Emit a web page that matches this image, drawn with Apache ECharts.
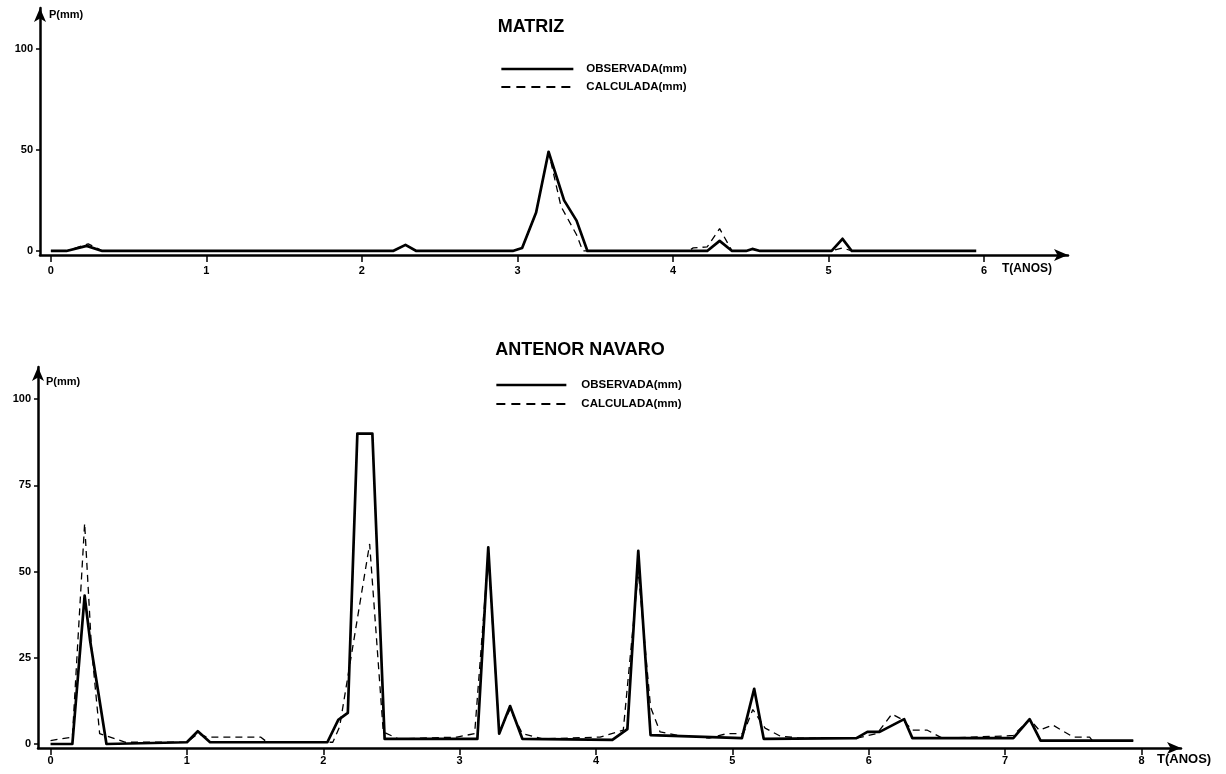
<!DOCTYPE html>
<html><head><meta charset="utf-8">
<script src="https://cdn.jsdelivr.net/npm/echarts@6/dist/echarts.min.js"></script>
<style>html,body{margin:0;padding:0;background:#fff}#c{width:1226px;height:774px}</style>
</head><body><div id="c"></div>
<script>
// ---- MATRIZ (top chart) ----
const matrizObsT = [0, 0.10, 0.23, 0.33, 2.20, 2.28, 2.35, 2.97, 3.03, 3.12, 3.20, 3.30, 3.38, 3.45, 4.22, 4.30, 4.38, 4.47, 4.51, 4.56, 5.02, 5.09, 5.15, 5.95];
const matrizObsP = [0, 0, 2.5, 0, 0, 3, 0, 0, 1.5, 19, 49, 25, 15, 0, 0, 5, 0, 0, 1, 0, 0, 6, 0, 0];
const matrizCalT = [0, 0.10, 0.24, 0.33, 2.20, 2.28, 2.35, 2.97, 3.03, 3.12, 3.20, 3.28, 3.38, 3.42, 4.10, 4.13, 4.22, 4.30, 4.38, 4.47, 4.51, 4.56, 5.02, 5.09, 5.15, 5.95];
const matrizCalP = [0, 0, 3.5, 0, 0, 3, 0, 0, 1.5, 19, 49, 22, 8, 0, 0, 1.5, 2, 11, 0, 0, 1, 0, 0, 1.5, 0, 0];
const matrizXTicks = [0, 1, 2, 3, 4, 5, 6];
const matrizYTicks = [0, 50, 100];

// ---- ANTENOR NAVARO (bottom chart) ----
const navObsT = [0, 0.16, 0.25, 0.29, 0.41, 1.00, 1.08, 1.17, 2.03, 2.11, 2.18, 2.25, 2.36, 2.45, 3.13, 3.21, 3.29, 3.37, 3.46, 4.12, 4.23, 4.31, 4.40, 5.07, 5.16, 5.23, 5.91, 5.99, 6.08, 6.26, 6.32, 7.06, 7.18, 7.26, 7.94];
const navObsP = [0, 0, 43, 30, 0, 0.5, 3.7, 0.5, 0.5, 7, 9, 90, 90, 1.5, 1.5, 57, 3, 11, 1.5, 1.2, 4.3, 56, 2.6, 1.7, 16, 1.5, 1.7, 3.5, 3.5, 7.2, 1.7, 1.7, 7.2, 1, 1];
const navCalT = [0, 0.16, 0.25, 0.30, 0.36, 0.55, 1.00, 1.08, 1.15, 1.54, 1.59, 2.07, 2.12, 2.34, 2.44, 2.55, 2.98, 3.11, 3.21, 3.29, 3.37, 3.46, 3.61, 4.03, 4.20, 4.31, 4.40, 4.47, 4.59, 4.83, 4.96, 5.08, 5.15, 5.24, 5.35, 5.50, 5.91, 6.06, 6.17, 6.25, 6.32, 6.43, 6.54, 6.98, 7.06, 7.18, 7.25, 7.35, 7.50, 7.62, 7.64, 7.94];
const navCalP = [1, 2, 64, 28, 3, 0.5, 0.5, 3, 2, 2, 0.5, 0.5, 5, 58, 3.5, 1.5, 2, 3, 55, 3.5, 10, 3, 1.5, 2, 4, 50, 10.7, 3.5, 2.6, 1.7, 3, 3, 10, 4.6, 2.3, 1.7, 1.7, 3, 8.7, 7, 4, 4, 1.7, 2.3, 2.5, 7.2, 4, 5.5, 2, 2, 1, 1];
const navXTicks = [0, 1, 2, 3, 4, 5, 6, 7, 8];
const navYTicks = [0, 25, 50, 75, 100];

const OBS = 'OBSERVADA(mm)';
const CAL = 'CALCULADA(mm)';
const FONT = '"Liberation Sans", Arial, sans-serif';

function zip(t, p) { return t.map((v, i) => [v, p[i]]); }

const axisLineStyle = { color: '#000', width: 2.5 };
function xAxisCfg(idx, min, max, ticks, margin) {
  return {
    type: 'value', gridIndex: idx, min: min, max: max,
    splitLine: { show: false },
    axisLine: { show: true, onZero: false, lineStyle: axisLineStyle, symbol: ['none', 'arrow'], symbolSize: [9, 14] },
    axisTick: { show: true, inside: false, length: 7, customValues: ticks, lineStyle: { color: '#000', width: 1.5 } },
    axisLabel: { customValues: ticks, margin: margin, color: '#000', fontWeight: 'bold', fontSize: 11, fontFamily: FONT }
  };
}
function yAxisCfg(idx, min, max, ticks) {
  return {
    type: 'value', gridIndex: idx, min: min, max: max,
    splitLine: { show: false },
    axisLine: { show: true, onZero: false, lineStyle: axisLineStyle, symbol: ['none', 'arrow'], symbolSize: [9, 14] },
    axisTick: { show: true, inside: false, length: 4, customValues: ticks, lineStyle: { color: '#000', width: 1.5 } },
    axisLabel: { customValues: ticks, margin: 7, color: '#000', fontWeight: 'bold', fontSize: 11, fontFamily: FONT }
  };
}

const obsLine = { color: '#000', width: 2.7, join: 'round' };
const calLine = { color: '#000', width: 1.3, type: [7, 5] };
const blackItem = { color: '#000' };

const legendText = (pad) => ({ color: '#000', fontWeight: 'bold', fontSize: 11.5, fontFamily: FONT, padding: [0, 0, 0, pad] });
const legendData = [
  { name: OBS, lineStyle: { width: 2.7, color: '#000', type: 'solid' } },
  { name: CAL, lineStyle: { width: 1.8, color: '#000', type: [9, 6] } }
];

const chart = echarts.init(document.getElementById('c'), null, { renderer: 'canvas' });
chart.setOption({
  animation: false,
  backgroundColor: '#fff',
  title: [
    { text: 'MATRIZ', left: 531, top: 18, padding: 0, textAlign: 'center',
      textStyle: { fontSize: 18, fontWeight: 'bold', color: '#000', fontFamily: FONT } },
    { text: 'ANTENOR NAVARO', left: 580, top: 341, padding: 0, textAlign: 'center',
      textStyle: { fontSize: 18, fontWeight: 'bold', color: '#000', fontFamily: FONT } }
  ],
  legend: [
    { data: legendData, orient: 'vertical', left: 500, top: 63, padding: 0, itemWidth: 72, itemHeight: 14, itemGap: 6,
      itemStyle: { opacity: 0 }, selectedMode: false, textStyle: legendText(8) },
    { data: legendData, orient: 'vertical', left: 495, top: 379, padding: 0, itemWidth: 70, itemHeight: 14, itemGap: 7,
      itemStyle: { opacity: 0 }, selectedMode: false, textStyle: legendText(10) }
  ],
  grid: [
    { left: 40, right: 158, top: 8, bottom: 519 },
    { left: 38, right: 45, top: 367, bottom: 26 }
  ],
  xAxis: [
    xAxisCfg(0, -0.07, 6.54, matrizXTicks, 10),
    xAxisCfg(1, -0.092, 8.29, navXTicks, 7)
  ],
  yAxis: [
    yAxisCfg(0, -2, 120, matrizYTicks),
    yAxisCfg(1, -1.16, 109.3, navYTicks)
  ],
  graphic: [
    { type: 'text', left: 49, top: 9, style: { text: 'P(mm)', fill: '#000', font: 'bold 11px ' + FONT } },
    { type: 'text', left: 1002, top: 263, style: { text: 'T(ANOS)', fill: '#000', font: 'bold 12px ' + FONT } },
    { type: 'text', left: 46, top: 376, style: { text: 'P(mm)', fill: '#000', font: 'bold 11px ' + FONT } },
    { type: 'text', left: 1157, top: 753, style: { text: 'T(ANOS)', fill: '#000', font: 'bold 13px ' + FONT } }
  ],
  series: [
    { name: OBS, type: 'line', xAxisIndex: 0, yAxisIndex: 0, symbol: 'none', itemStyle: blackItem, lineStyle: obsLine, data: zip(matrizObsT, matrizObsP), z: 3 },
    { name: CAL, type: 'line', xAxisIndex: 0, yAxisIndex: 0, symbol: 'none', itemStyle: blackItem, lineStyle: calLine, data: zip(matrizCalT, matrizCalP), z: 2 },
    { name: OBS, type: 'line', xAxisIndex: 1, yAxisIndex: 1, symbol: 'none', itemStyle: blackItem, lineStyle: obsLine, data: zip(navObsT, navObsP), z: 3 },
    { name: CAL, type: 'line', xAxisIndex: 1, yAxisIndex: 1, symbol: 'none', itemStyle: blackItem, lineStyle: calLine, data: zip(navCalT, navCalP), z: 2 }
  ]
});
</script>
</body></html>
